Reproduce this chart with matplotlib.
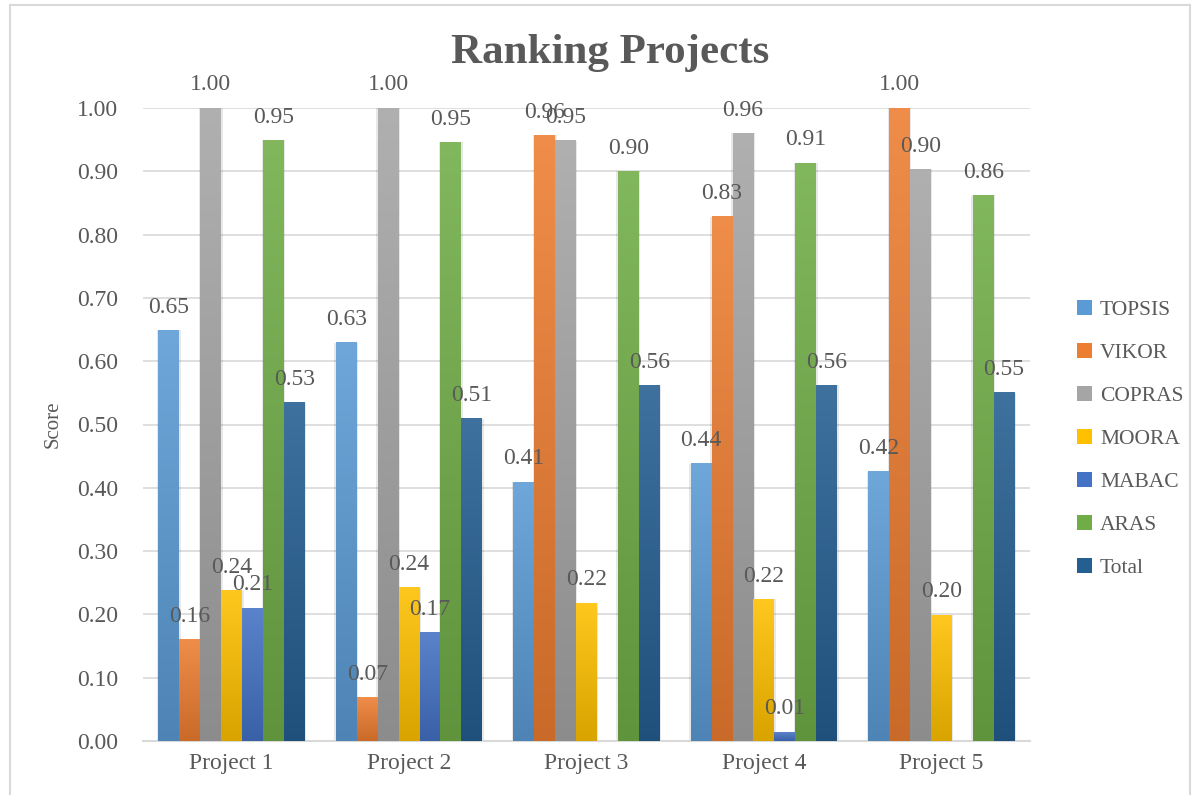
import numpy as np
import matplotlib
matplotlib.use("Agg")
import matplotlib.pyplot as plt
from matplotlib.colors import LinearSegmentedColormap, to_rgb
from matplotlib.patches import Rectangle

projects = ["Project 1", "Project 2", "Project 3", "Project 4", "Project 5"]
methods = ["TOPSIS", "VIKOR", "COPRAS", "MOORA", "MABAC", "ARAS", "Total"]
topsis = [0.649, 0.629, 0.409, 0.438, 0.425]
vikor = [0.160, 0.068, 0.957, 0.828, 1.000]
copras = [1.000, 1.000, 0.948, 0.960, 0.903]
moora = [0.238, 0.242, 0.218, 0.224, 0.199]
mabac = [0.210, 0.171, -0.003, 0.014, -0.003]
aras = [0.949, 0.946, 0.900, 0.913, 0.862]
total = [0.534, 0.509, 0.561, 0.562, 0.550]
series = [topsis, vikor, copras, moora, mabac, aras, total]
colors = ["#5B9BD5", "#ED7D31", "#A5A5A5", "#FFC000", "#4472C4", "#70AD47", "#255E91"]

plt.rcParams['font.family'] = ['Liberation Serif', 'DejaVu Serif']
txt = "#595959"

fig = plt.figure(figsize=(11.99, 7.95), dpi=100)
fig.patches.append(Rectangle((10 / 1199, -0.01), 1180 / 1199, 1 - 5 / 795 + 0.01,
                             transform=fig.transFigure, fill=False,
                             edgecolor="#D9D9D9", linewidth=1.5))
ax = fig.add_axes([143 / 1199, 1 - 741 / 795, 887 / 1199, (741 - 108) / 795])

x = np.arange(len(projects))
w = 0.118
for i, (vals, c) in enumerate(zip(series, colors)):
    rgb = np.array(to_rgb(c))
    light = np.clip(rgb + (1 - rgb) * 0.12, 0, 1)
    dark = rgb * 0.85
    cmap = LinearSegmentedColormap.from_list(methods[i], [dark, light])
    grad = np.linspace(0, 1, 256).reshape(-1, 1)
    for j, v in enumerate(vals):
        x0 = x[j] - 3.5 * w + i * w
        # soft shadow
        ax.bar(x0 + w / 2, v, width=w * 1.14, color="#000000", alpha=0.09,
               linewidth=0, zorder=2)
        lo, hi = min(0, v), max(0, v)
        ax.imshow(grad, extent=[x0, x0 + w, lo, hi], origin="lower",
                  aspect="auto", cmap=cmap, zorder=3)
        if v >= 0:
            ax.text(x0 + w / 2, v + 0.02, f"{v:.2f}", ha="center", va="bottom",
                    fontsize=17, color=txt, zorder=5, clip_on=False)
    ax.bar([np.nan], [0], color=c, label=methods[i])

ax.set_xlim(-0.5, 4.5)
ax.set_ylim(0, 1.0)
ax.set_yticks(np.arange(0, 1.01, 0.1))
ax.set_yticklabels([f"{t:.2f}" for t in np.arange(0, 1.01, 0.1)])
ax.set_xticks(x)
ax.set_xticklabels(projects)
ax.tick_params(axis="both", length=0, labelsize=17, colors=txt)
ax.tick_params(axis="y", pad=18)
ax.tick_params(axis="x", pad=9)
ax.grid(axis="y", color="#D9D9D9", linewidth=1.2, zorder=0)
ax.set_axisbelow(True)
for s in ["top", "right", "left"]:
    ax.spines[s].set_visible(False)
ax.spines["bottom"].set_color("#D9D9D9")
ax.spines["bottom"].set_linewidth(1.5)
ax.set_ylabel("Score", fontsize=15, color=txt, labelpad=10)

fig.text(610 / 1199, 1 - 53 / 795, "Ranking Projects", ha="center", va="center",
         fontsize=31, fontweight="bold", color=txt)

leg = fig.legend(loc="center left", bbox_to_anchor=(1058 / 1199, 1 - 439 / 795),
                 frameon=False, fontsize=15.5, handlelength=0.7, handleheight=0.7,
                 handletextpad=0.35, labelspacing=1.07, labelcolor=txt)

fig.savefig("out.png", dpi=100)
